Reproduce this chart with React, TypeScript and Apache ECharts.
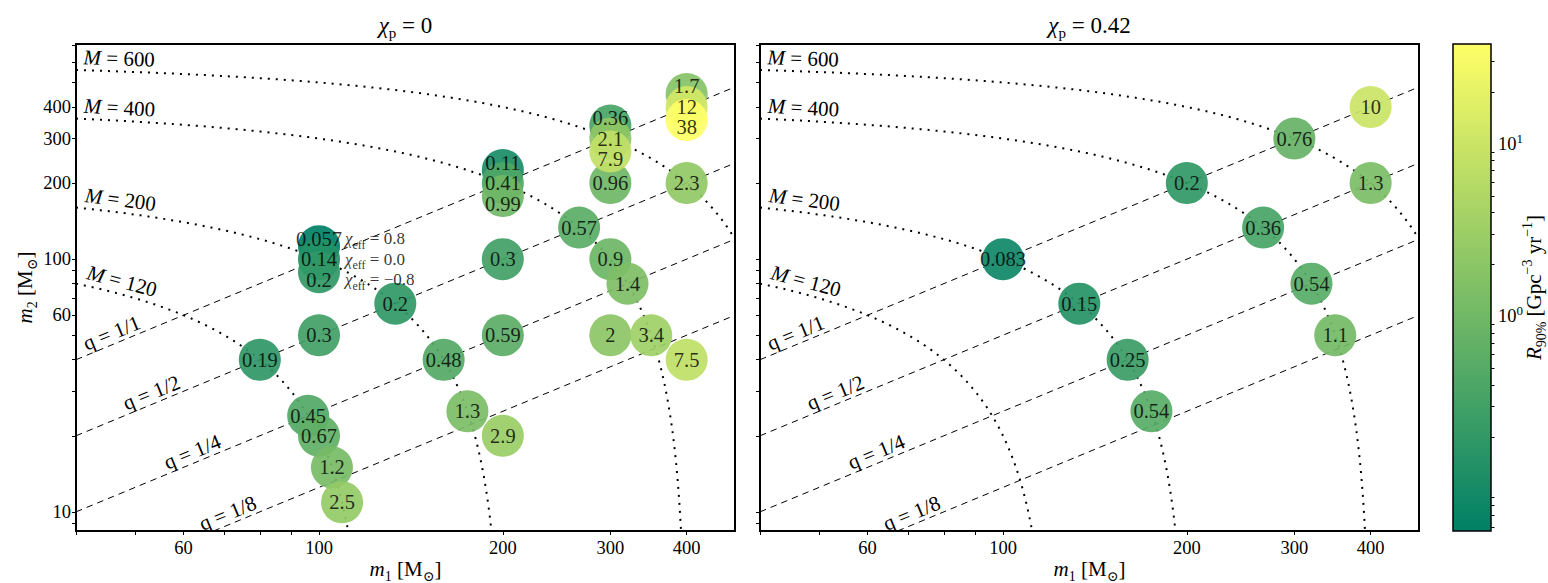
import React, { useEffect, useRef } from 'react';
import * as echarts from 'echarts';

const FONT = "'Liberation Serif', 'DejaVu Serif', serif";

const X_MIN = 40;
const X_MAX = 480;
const Y_MIN = 8.4;
const Y_MAX = 710;
const RATE_MIN = 0.057;
const RATE_MAX = 38;

// Left panel: chi_p = 0
const leftM1 = [400, 400, 400, 300, 300, 300, 200, 200, 200, 100, 100, 100,
  300, 400, 266.67, 200, 300, 320, 133.33, 100, 200, 300, 350, 400, 80, 160, 96, 100, 105, 109.09, 175, 200];
const leftM2 = [400, 400, 400, 300, 300, 300, 200, 200, 200, 100, 100, 100,
  200, 200, 133.33, 100, 100, 80, 66.67, 50, 50, 50, 50, 40, 40, 40, 24, 20, 15, 10.91, 25, 20];
const leftChiEff = [0.8, 0, -0.8, 0.8, 0, -0.8, 0.8, 0, -0.8, 0.8, 0, -0.8,
  0, 0, 0, 0, 0, 0, 0, 0, 0, 0, 0, 0, 0, 0, 0, 0, 0, 0, 0, 0];
const leftRate = [1.7, 12, 38, 0.36, 2.1, 7.9, 0.11, 0.41, 0.99, 0.057, 0.14, 0.2,
  0.96, 2.3, 0.57, 0.3, 0.9, 1.4, 0.2, 0.3, 0.59, 2, 3.4, 7.5, 0.19, 0.48, 0.45, 0.67, 1.2, 2.5, 1.3, 2.9];

// Right panel: chi_p = 0.42
const rightM1 = [400, 300, 200, 400, 266.67, 100, 320, 133.33, 350, 160, 175];
const rightM2 = [400, 300, 200, 200, 133.33, 100, 80, 66.67, 50, 40, 25];
const rightChiEff = [0, 0, 0, 0, 0, 0, 0, 0, 0, 0, 0];
const rightRate = [10, 0.76, 0.2, 1.3, 0.36, 0.083, 0.54, 0.15, 1.1, 0.25, 0.54];

// Guide lines
const massLines = [120, 200, 400, 600];
const massLabelM1 = 47;
const qLines = [1, 1 / 2, 1 / 4, 1 / 8];
const qLabels = ['q = 1/1', 'q = 1/2', 'q = 1/4', 'q = 1/8'];
const qLabelM1 = [46.5, 54, 63, 72];

// chi_eff legend next to the (100, 100) stack
const chiEffValues = [0.8, 0.0, -0.8];
const chiEffTexts = ['0.8', '0.0', '\u22120.8'];
const chiEffAt = [100, 100];

// ticks
const xTickLabels = [60, 100, 200, 300, 400];
const xTicks = [40, 50, 60, 70, 80, 90, 100, 200, 300, 400];
const yTickLabels = [10, 60, 100, 200, 300, 400];
const yTicks = [9, 10, 20, 30, 40, 50, 60, 70, 80, 90, 100, 200, 300, 400, 500, 600, 700];
const cbMajor = [1, 10];
const cbMinor = [0.06, 0.07, 0.08, 0.09, 0.2, 0.3, 0.4, 0.5, 0.6, 0.7, 0.8, 0.9,
  2, 3, 4, 5, 6, 7, 8, 9, 20, 30];

const lg = Math.log10;

function summer(v: number): string {
  let t = (lg(v) - lg(RATE_MIN)) / (lg(RATE_MAX) - lg(RATE_MIN));
  t = Math.max(0, Math.min(1, t));
  const r = Math.round(255 * t);
  const g = Math.round(255 * (0.5 + 0.5 * t));
  const b = 102;
  return `rgb(${r},${g},${b})`;
}

const richBase: any = {
  i: { fontStyle: 'italic', fontSize: 21, fontFamily: FONT, lineHeight: 28 },
  sub: { fontSize: 14, fontFamily: FONT, lineHeight: 14, verticalAlign: 'bottom' },
  sup: { fontSize: 14, fontFamily: FONT, lineHeight: 14, verticalAlign: 'top' },
};

const richTitle: any = {
  i: { fontStyle: 'italic', fontSize: 23, fontFamily: FONT, lineHeight: 30 },
  sub: { fontSize: 15, fontFamily: FONT, lineHeight: 15, verticalAlign: 'bottom' },
};

const CIRCLE_OFF = 13;
const LABEL_OFF = 20.5;

function circleSeries(m1: number[], m2: number[], chi: number[], rate: number[], gi: number) {
  const idx = rate.map((_, i) => i).sort((a, b) => rate[a] - rate[b]);
  return [
    {
      type: 'scatter',
      xAxisIndex: gi,
      yAxisIndex: gi,
      symbol: 'circle',
      symbolSize: 42,
      z: 5,
      silent: true,
      data: idx.map((i) => ({
        value: [lg(m1[i]), lg(m2[i])],
        symbolOffset: [0, (-chi[i] / 0.8) * CIRCLE_OFF],
        itemStyle: { color: summer(rate[i]), opacity: 0.92 },
      })),
    },
    {
      type: 'scatter',
      xAxisIndex: gi,
      yAxisIndex: gi,
      symbol: 'circle',
      symbolSize: 1,
      z: 6,
      silent: true,
      itemStyle: { color: 'rgba(0,0,0,0)' },
      label: {
        show: true,
        position: 'inside',
        formatter: (p: any) => p.name,
        fontSize: 20.5,
        fontFamily: FONT,
        color: '#000',
      },
      data: idx.map((i) => ({
        name: String(rate[i]),
        value: [lg(m1[i]), lg(m2[i])],
        label: { offset: [0, (-chi[i] / 0.8) * LABEL_OFF] },
      })),
    },
  ];
}

function massSeries(gi: number) {
  return {
    type: 'custom',
    xAxisIndex: gi,
    yAxisIndex: gi,
    z: 2,
    silent: true,
    clip: true,
    data: massLines.map((M) => [M, 0]),
    renderItem: (params: any, api: any) => {
      const M = api.value(0) as number;
      const raw: number[] = [];
      const m1max = Math.min(X_MAX, M - Y_MIN);
      const N = 200;
      for (let i = 0; i <= N; i++) raw.push(X_MIN * Math.pow(m1max / X_MIN, i / N));
      const m2top = M - X_MIN;
      const m2bot = Math.max(Y_MIN, M - X_MAX);
      for (let j = 0; j <= N; j++) raw.push(M - m2bot * Math.pow(m2top / m2bot, j / N));
      raw.sort((a, b) => a - b);
      const pts: number[][] = [];
      for (const m1 of raw) {
        const m2 = M - m1;
        if (m1 < X_MIN - 1e-9 || m1 > X_MAX + 1e-9 || m2 < Y_MIN - 1e-9 || m2 > Y_MAX) continue;
        pts.push(api.coord([lg(m1), lg(m2)]));
      }
      const a = api.coord([lg(massLabelM1 - 1), lg(M - massLabelM1 + 1)]);
      const b = api.coord([lg(massLabelM1 + 1), lg(M - massLabelM1 - 1)]);
      const p = api.coord([lg(massLabelM1), lg(M - massLabelM1)]);
      const dx = b[0] - a[0];
      const dy = b[1] - a[1];
      const len = Math.hypot(dx, dy);
      const nx = dy / len;
      const ny = -dx / len;
      const off = 13;
      return {
        type: 'group',
        children: [
          {
            type: 'polyline',
            shape: { points: pts },
            style: { stroke: '#000', lineWidth: 2, lineDash: [2, 6], fill: null },
          },
          {
            type: 'text',
            x: p[0] + nx * off,
            y: p[1] + ny * off,
            rotation: -Math.atan2(dy, dx),
            style: {
              text: '{i|M} = ' + M,
              rich: richBase,
              fontSize: 21,
              fontFamily: FONT,
              fill: '#000',
              align: 'center',
              verticalAlign: 'middle',
              textAlign: 'center',
              textVerticalAlign: 'middle',
            },
          },
        ],
      };
    },
  };
}

function qSeries(gi: number) {
  return {
    type: 'custom',
    xAxisIndex: gi,
    yAxisIndex: gi,
    z: 2,
    silent: true,
    clip: true,
    data: qLines.map((q) => [q, 0]),
    renderItem: (params: any, api: any) => {
      const q = api.value(0) as number;
      const k = params.dataIndex;
      const s = Math.max(X_MIN, Y_MIN / q);
      const e = Math.min(X_MAX, Y_MAX / q);
      const p0 = api.coord([lg(s), lg(s * q)]);
      const p1 = api.coord([lg(e), lg(e * q)]);
      const dx = p1[0] - p0[0];
      const dy = p1[1] - p0[1];
      const len = Math.hypot(dx, dy);
      const nx = dy / len;
      const ny = -dx / len;
      const lm = qLabelM1[k];
      const p = api.coord([lg(lm), lg(lm * q)]);
      const off = 11;
      return {
        type: 'group',
        children: [
          {
            type: 'line',
            shape: { x1: p0[0], y1: p0[1], x2: p1[0], y2: p1[1] },
            style: { stroke: '#000', lineWidth: 1, lineDash: [6.5, 5] },
          },
          {
            type: 'text',
            x: p[0] + nx * off,
            y: p[1] + ny * off,
            rotation: -Math.atan2(dy, dx),
            style: {
              text: qLabels[k],
              fontSize: 21,
              fontFamily: FONT,
              fill: '#000',
              align: 'center',
              verticalAlign: 'middle',
              textAlign: 'center',
              textVerticalAlign: 'middle',
            },
          },
        ],
      };
    },
  };
}

const tickLabelStyle = {
  fontSize: 18.5,
  fontFamily: FONT,
  color: '#000',
};

function xAxisDef(gi: number) {
  return {
    type: 'value',
    gridIndex: gi,
    min: lg(X_MIN),
    max: lg(X_MAX),
    name: '{i|m}{sub|1} [M{sub|\u2299}]',
    nameLocation: 'middle',
    nameGap: 24,
    nameMoveOverlap: false,
    nameTextStyle: { fontSize: 21, fontFamily: FONT, color: '#000', lineHeight: 28, rich: richBase },
    axisLine: { show: true, lineStyle: { color: '#000', width: 2 } },
    axisTick: { show: true, customValues: xTicks.map(lg), length: 4, lineStyle: { color: '#000', width: 1 } },
    axisLabel: {
      show: true,
      customValues: xTickLabels.map(lg),
      formatter: (v: number) => String(Math.round(Math.pow(10, v))),
      margin: 7,
      ...tickLabelStyle,
    },
    splitLine: { show: false },
  };
}

function yAxisDef(gi: number, showLabels: boolean) {
  return {
    type: 'value',
    gridIndex: gi,
    min: lg(Y_MIN),
    max: lg(Y_MAX),
    name: showLabels ? '{i|m}{sub|2} [M{sub|\u2299}]' : '',
    nameLocation: 'middle',
    nameGap: 37,
    nameRotate: 90,
    nameMoveOverlap: false,
    nameTextStyle: { fontSize: 21, fontFamily: FONT, color: '#000', lineHeight: 28, rich: richBase },
    axisLine: { show: true, lineStyle: { color: '#000', width: 2 } },
    axisTick: { show: true, customValues: yTicks.map(lg), length: 4, lineStyle: { color: '#000', width: 1 } },
    axisLabel: {
      show: showLabels,
      customValues: yTickLabels.map(lg),
      formatter: (v: number) => String(Math.round(Math.pow(10, v))),
      margin: 5,
      ...tickLabelStyle,
    },
    splitLine: { show: false },
  };
}

export default function App() {
  const ref = useRef<HTMLDivElement>(null);

  useEffect(() => {
    if (!ref.current) return;
    const chart = echarts.init(ref.current, null, { renderer: 'svg' });

    const chiSeries = {
      type: 'scatter',
      xAxisIndex: 0,
      yAxisIndex: 0,
      symbol: 'circle',
      symbolSize: 1,
      z: 6,
      silent: true,
      itemStyle: { color: 'rgba(0,0,0,0)' },
      label: {
        show: true,
        position: 'inside',
        align: 'left',
        fontSize: 17,
        fontFamily: FONT,
        color: '#000',
        lineHeight: 24,
        formatter: (p: any) => '{i|\u03c7}{sub|eff} = ' + p.name,
        rich: {
          i: { fontStyle: 'italic', fontSize: 17, fontFamily: FONT, lineHeight: 24 },
          sub: { fontSize: 12, fontFamily: FONT, lineHeight: 12, verticalAlign: 'bottom' },
        },
      },
      data: chiEffValues.map((c, i) => ({
        name: chiEffTexts[i],
        value: [lg(chiEffAt[0]), lg(chiEffAt[1])],
        label: { offset: [26, (-c / 0.8) * LABEL_OFF] },
      })),
    };

    const colorbarSeries = {
      type: 'custom',
      xAxisIndex: 2,
      yAxisIndex: 2,
      silent: true,
      z: 1,
      data: [[0, 0]],
      renderItem: (params: any, api: any) => {
        const p0 = api.coord([0, lg(RATE_MAX)]);
        const p1 = api.coord([1, lg(RATE_MIN)]);
        return {
          type: 'rect',
          shape: { x: p0[0], y: p0[1], width: p1[0] - p0[0], height: p1[1] - p0[1] },
          style: {
            fill: new echarts.graphic.LinearGradient(0, 1, 0, 0, [
              { offset: 0, color: summer(RATE_MIN) },
              { offset: 1, color: summer(RATE_MAX) },
            ]),
            stroke: '#000',
            lineWidth: 1.5,
          },
        };
      },
    };

    const option: any = {
      animation: false,
      backgroundColor: '#fff',
      textStyle: { fontFamily: FONT },
      grid: [
        { left: 76, top: 44, width: 659, height: 487, show: true, borderColor: '#000', borderWidth: 2, backgroundColor: 'transparent', containLabel: false, outerBoundsMode: 'none' },
        { left: 760, top: 44, width: 659, height: 487, show: true, borderColor: '#000', borderWidth: 2, backgroundColor: 'transparent', containLabel: false, outerBoundsMode: 'none' },
        { left: 1453, top: 44, width: 38, height: 487, show: false, containLabel: false, outerBoundsMode: 'none' },
      ],
      xAxis: [
        xAxisDef(0),
        xAxisDef(1),
        { type: 'value', gridIndex: 2, min: 0, max: 1, show: false },
      ],
      yAxis: [
        yAxisDef(0, true),
        yAxisDef(1, false),
        {
          type: 'value',
          gridIndex: 2,
          position: 'right',
          min: lg(RATE_MIN),
          max: lg(RATE_MAX),
          name: '{i|R}{sub|90%} [Gpc{sup|\u22123} yr{sup|\u22121}]',
          nameLocation: 'middle',
          nameGap: 29,
          nameRotate: 90,
          nameMoveOverlap: false,
          nameTextStyle: { fontSize: 21, fontFamily: FONT, color: '#000', lineHeight: 28, rich: richBase },
          axisLine: { show: false },
          axisTick: { show: true, customValues: cbMajor.map(lg), length: 6, lineStyle: { color: '#000', width: 1 } },
          axisLabel: {
            show: true,
            customValues: cbMajor.map(lg),
            formatter: (v: number) => '10{sup|' + Math.round(v) + '}',
            margin: 7,
            fontSize: 18.5,
            fontFamily: FONT,
            color: '#000',
            lineHeight: 24,
            rich: { sup: { fontSize: 13, fontFamily: FONT, lineHeight: 13, verticalAlign: 'top' } },
          },
          splitLine: { show: false },
        },
        {
          type: 'value',
          gridIndex: 2,
          position: 'right',
          min: lg(RATE_MIN),
          max: lg(RATE_MAX),
          axisLine: { show: false },
          axisTick: { show: true, customValues: cbMinor.map(lg), length: 3.5, lineStyle: { color: '#000', width: 1 } },
          axisLabel: { show: false },
          splitLine: { show: false },
        },
      ],
      graphic: [
        {
          type: 'text',
          x: 405.5,
          y: 25,
          style: {
            text: '{i|\u03c7}{sub|p} = 0',
            rich: richTitle,
            fontSize: 23,
            fontFamily: FONT,
            fill: '#000',
            align: 'center',
            verticalAlign: 'middle',
            textAlign: 'center',
            textVerticalAlign: 'middle',
            lineHeight: 30,
          },
        },
        {
          type: 'text',
          x: 1089.5,
          y: 25,
          style: {
            text: '{i|\u03c7}{sub|p} = 0.42',
            rich: richTitle,
            fontSize: 23,
            fontFamily: FONT,
            fill: '#000',
            align: 'center',
            verticalAlign: 'middle',
            textAlign: 'center',
            textVerticalAlign: 'middle',
            lineHeight: 30,
          },
        },
      ],
      series: [
        massSeries(0),
        qSeries(0),
        ...circleSeries(leftM1, leftM2, leftChiEff, leftRate, 0),
        chiSeries,
        massSeries(1),
        qSeries(1),
        ...circleSeries(rightM1, rightM2, rightChiEff, rightRate, 1),
        colorbarSeries,
      ],
    };

    chart.setOption(option);
    return () => chart.dispose();
  }, []);

  return (
    <div
      ref={ref}
      style={{ position: 'fixed', left: 0, top: 0, width: 1548, height: 583, background: '#fff' }}
    />
  );
}
